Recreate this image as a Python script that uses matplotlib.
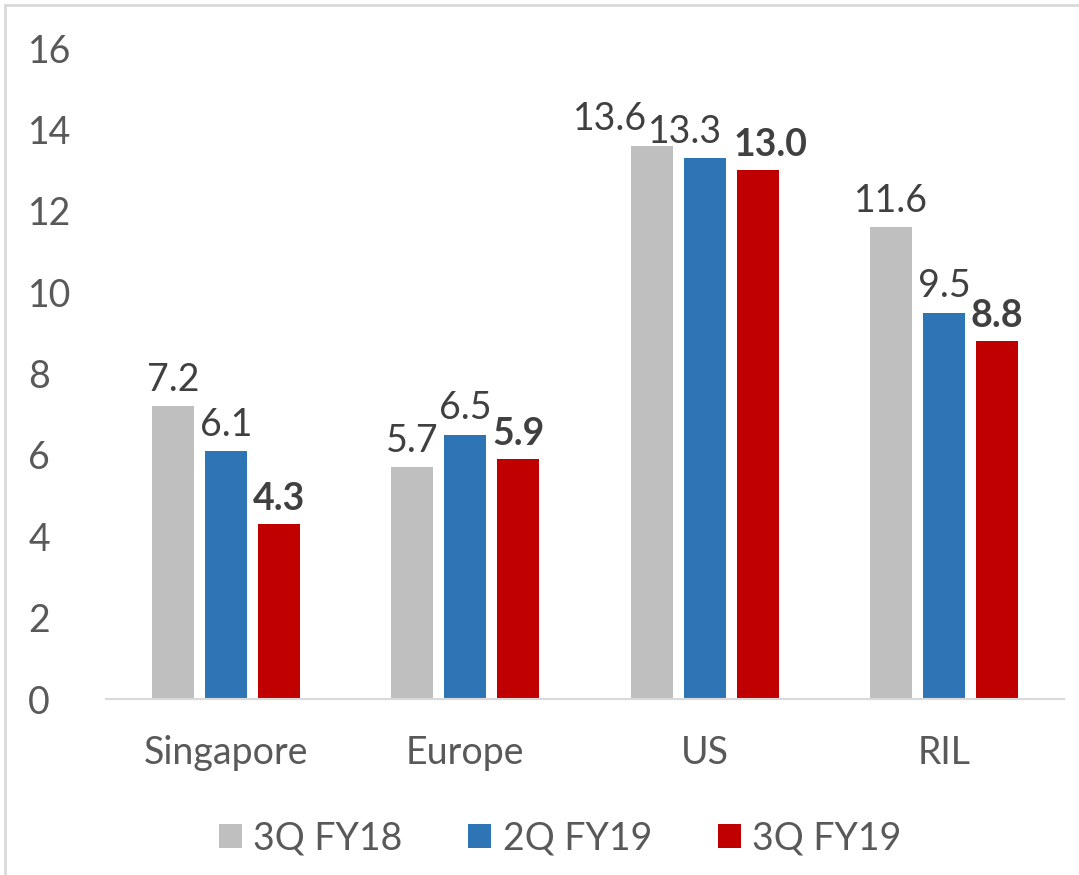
import numpy as np
import matplotlib.pyplot as plt
from matplotlib.patches import Rectangle

# Data
categories = ["Singapore", "Europe", "US", "RIL"]
series_names = ["3Q FY18", "2Q FY19", "3Q FY19"]
vals_3q_fy18 = [7.2, 5.7, 13.6, 11.6]
vals_2q_fy19 = [6.1, 6.5, 13.3, 9.5]
vals_3q_fy19 = [4.3, 5.9, 13.0, 8.8]
y_ticks = [0, 2, 4, 6, 8, 10, 12, 14, 16]

colors = ["#BFBFBF", "#2E75B6", "#C00000"]
text_color = "#595959"
label_color = "#404040"

# labels on the US group are pushed apart so they don't collide (in points)
label_shift = {(0, 2): -30, (1, 2): -14, (2, 2): 9}

plt.rcParams["font.family"] = ["Lato", "DejaVu Sans"]

fig = plt.figure(figsize=(10.79, 8.75), dpi=100)
ax = fig.add_axes([0.0982, 0.2011, 0.8878, 0.744])

x = np.arange(len(categories))
width = 0.175
pitch = 0.221
all_vals = [vals_3q_fy18, vals_2q_fy19, vals_3q_fy19]

for i, (vals, name, c) in enumerate(zip(all_vals, series_names, colors)):
    bars = ax.bar(x + (i - 1) * pitch, vals, width, color=c, label=name)
    for j, (b, v) in enumerate(zip(bars, vals)):
        dx = label_shift.get((i, j), 0)
        ax.annotate(f"{v:.1f}", (b.get_x() + b.get_width() / 2, v),
                    xytext=(dx, 6), textcoords="offset points",
                    ha="center", va="bottom", fontsize=27,
                    color=label_color,
                    fontweight="bold" if i == 2 else "normal")

ax.set_xlim(-0.5, len(categories) - 0.5)
ax.set_ylim(0, 16)
ax.set_yticks(y_ticks)
ax.set_xticks(x)
ax.set_xticklabels(categories)
ax.tick_params(axis="both", length=0, labelsize=27, colors=text_color)
ax.tick_params(axis="y", pad=56)
ax.tick_params(axis="x", pad=26)
for lbl in ax.get_yticklabels():
    lbl.set_horizontalalignment("left")

for s in ["top", "right", "left"]:
    ax.spines[s].set_visible(False)
ax.spines["bottom"].set_color("#D9D9D9")
ax.spines["bottom"].set_linewidth(1.5)

leg = fig.legend(loc="center", bbox_to_anchor=(0.519, 0.042), ncol=3,
                 frameon=False, fontsize=27, labelcolor=text_color,
                 handlelength=0.62, handleheight=0.62, handletextpad=0.3,
                 columnspacing=1.75)

# light outer border
fig.patches.append(Rectangle((5 / 1079, -0.1), 1.2, 1.1 - 5 / 875,
                             transform=fig.transFigure, fill=False,
                             edgecolor="#D9D9D9", linewidth=2))

plt.savefig("out.png", dpi=100)
